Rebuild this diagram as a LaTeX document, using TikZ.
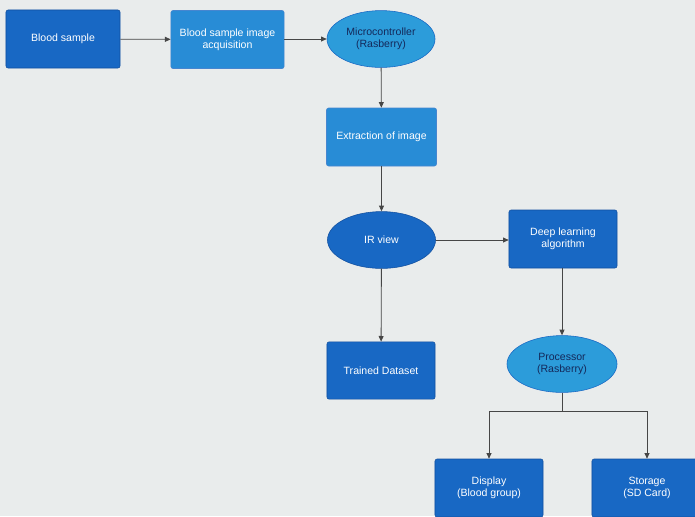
\documentclass[tikz,border=0pt]{standalone}
\usepackage{fontspec}
\setmainfont{Liberation Sans}
\usepackage{tikz}
\usetikzlibrary{arrows.meta,positioning,shapes.geometric,calc}
\definecolor{bgray}{RGB}{233,236,236}
\definecolor{boxdark}{RGB}{24,104,196}
\definecolor{boxlight}{RGB}{40,140,214}
\definecolor{ovallight}{RGB}{44,156,218}
\definecolor{edgedark}{RGB}{18,80,160}
\definecolor{txtnavy}{RGB}{20,40,90}
\definecolor{linegray}{RGB}{70,70,70}

\tikzset{
  darkbox/.style={rectangle,rounded corners=1.5pt,fill=boxdark,draw=edgedark,
    minimum width=2.75cm,minimum height=1.45cm,align=center,
    text=white,font=\fontsize{7.5}{8.5}\selectfont},
  lightbox/.style={darkbox,fill=boxlight,draw=boxdark!80},
  darkoval/.style={ellipse,fill=boxdark,draw=edgedark,
    minimum width=2.7cm,minimum height=1.42cm,inner sep=0pt,align=center,
    text=white,font=\fontsize{7.5}{8.5}\selectfont},
  lightoval/.style={darkoval,fill=ovallight,draw=boxdark,text=txtnavy},
  link/.style={-{Triangle[length=4pt,width=3.5pt]},linegray,semithick}
}

\begin{document}
\begin{tikzpicture}[x=0.025cm,y=-0.025cm]
  % page background
  \fill[bgray] (0,0) rectangle (695,516);
  \useasboundingbox (0,0) rectangle (695,516);
  % first row
  \node[darkbox,minimum width=2.85cm] (sample) at (63,39) {Blood sample};
  \node[lightbox,minimum width=2.83cm] (acq) at (227.5,39.5) {Blood sample image\\acquisition};
  \node[lightoval] (micro) at (381,39) {Microcontroller\\(Rasberry)};
  % image path
  \node[lightbox] (extract) at (381.5,137) {Extraction of image};
  \node[darkoval] (irview) at (381.5,240) {IR view};
  \node[darkbox,minimum width=2.7cm] (deep) at (563,239) {Deep learning\\algorithm};
  \node[darkbox,minimum width=2.7cm,minimum height=1.43cm] (trained) at (381,370.5) {Trained Dataset};
  \node[lightoval,minimum width=2.75cm] (proc) at (562,364) {Processor\\(Rasberry)};
  % outputs
  \node[darkbox,minimum width=2.7cm] (display) at (489,488) {Display\\(Blood group)};
  \node[darkbox] (storage) at (647,488) {Storage\\(SD Card)};
  \coordinate (split) at (562,411);
  % connectors
  \draw[link] (sample) -- (acq);
  \draw[link] (acq.east |- micro.west) -- (micro);
  \draw[link] (micro) -- (extract);
  \draw[link] (extract) -- (irview);
  \draw[link] (irview.east) -- (irview.east -| deep.west);
  \draw[link] (irview) -- (trained);
  \draw[link] (deep.south -| proc.north) -- (proc);
  \draw[linegray,semithick] (proc.south) -- (split);
  \draw[link] (split) -| (display.north);
  \draw[link] (split) -| (storage.north);
\end{tikzpicture}
\end{document}
